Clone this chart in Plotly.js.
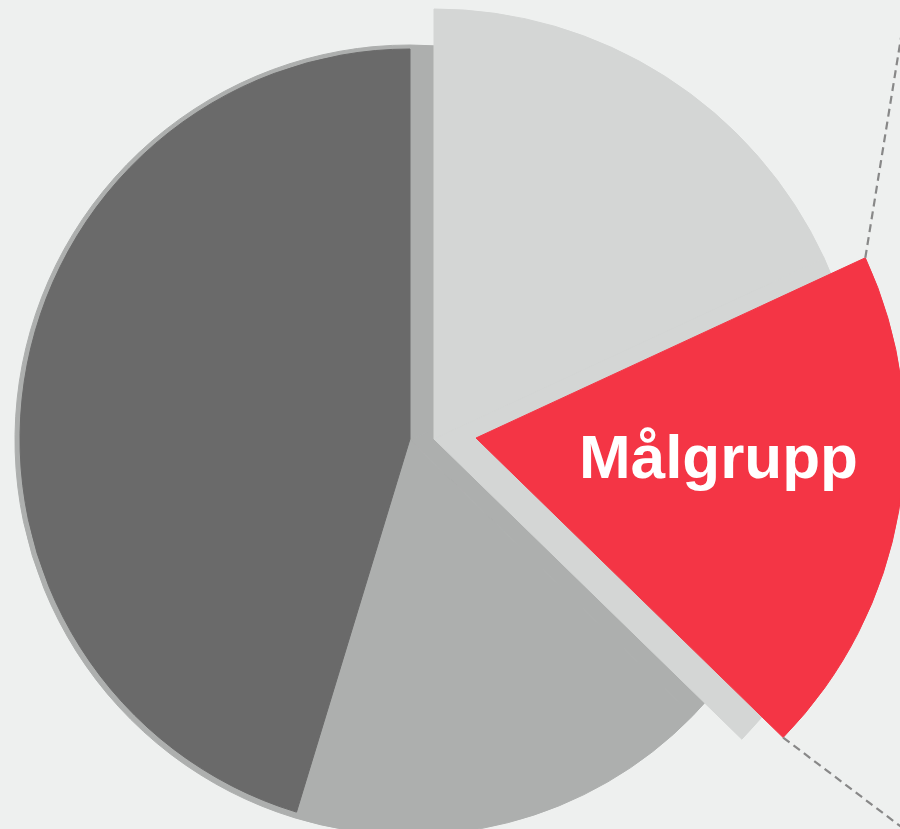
<!DOCTYPE html>
<html><head><meta charset="utf-8">
<script src="https://cdn.plot.ly/plotly-3.0.1.min.js"></script>
<style>
html,body{margin:0;padding:0;overflow:hidden;background:#eef0ef;}
#chart{width:920px;height:880px;}
</style>
</head><body><div id="chart"></div>
<script>
// ---- data ----
const categories = ['Övrigt', 'Målgrupp', 'Grupp B', 'Grupp C'];
const values = [18.1, 19.2, 17.4, 45.3];
const highlightLabel = 'Målgrupp';

// ---- styles / geometry ----
const W = 920, H = 880;
const BG = '#eef0ef';
const T = 'rgba(0,0,0,0)';
const LIGHT = '#d4d6d5', MID = '#adafae', DARK = '#6a6a6a', RED = '#f43545';

const layers = [
  {cx: 410, cy: 440, r: 395, colors: [MID, MID, MID, MID]},
  {cx: 410, cy: 439, r: 390, colors: [T, T, T, DARK]},
  {cx: 434, cy: 439, r: 430, colors: [LIGHT, LIGHT, T, T]},
  {cx: 476, cy: 438, r: 429, colors: [T, RED, T, T]}
];

const traces = layers.map(L => ({
  type: 'pie',
  labels: categories,
  values: values,
  sort: false,
  direction: 'clockwise',
  rotation: 0,
  textinfo: 'none',
  hoverinfo: 'skip',
  showlegend: false,
  marker: {colors: L.colors, line: {width: 1, color: L.colors}},
  domain: {
    x: [(L.cx - L.r) / W, (L.cx + L.r) / W],
    y: [1 - (L.cy + L.r) / H, 1 - (L.cy - L.r) / H]
  }
}));

// connector lines from the highlighted slice's outer corners
const total = values.reduce((a, b) => a + b, 0);
const hi = categories.indexOf(highlightLabel);
let before = 0; for (let i = 0; i < hi; i++) before += values[i];
const a0 = before / total * 2 * Math.PI;
const a1 = (before + values[hi]) / total * 2 * Math.PI;
const R = layers[3];
const p0 = [R.cx + R.r * Math.sin(a0), R.cy - R.r * Math.cos(a0)];
const p1 = [R.cx + R.r * Math.sin(a1), R.cy - R.r * Math.cos(a1)];
const d0 = [0.16, -0.987], d1 = [0.797, 0.603];
const ext = 400;
function px(x) { return x / W; }
function py(y) { return 1 - y / H; }
const lineStyle = {color: '#888888', width: 2.2, dash: '8px,5px'};
const shapes = [
  {type: 'line', xref: 'paper', yref: 'paper', layer: 'above',
   x0: px(p0[0]), y0: py(p0[1]), x1: px(p0[0] + d0[0] * ext), y1: py(p0[1] + d0[1] * ext), line: lineStyle},
  {type: 'line', xref: 'paper', yref: 'paper', layer: 'above',
   x0: px(p1[0]), y0: py(p1[1]), x1: px(p1[0] + d1[0] * ext), y1: py(p1[1] + d1[1] * ext), line: lineStyle}
];

const layout = {
  width: W, height: H,
  margin: {l: 0, r: 0, t: 0, b: 0},
  paper_bgcolor: BG, plot_bgcolor: BG,
  showlegend: false,
  shapes: shapes,
  annotations: [{
    xref: 'paper', yref: 'paper', x: px(718), y: py(456),
    xanchor: 'center', yanchor: 'middle', showarrow: false,
    text: highlightLabel,
    font: {family: 'Liberation Sans, Arial, sans-serif', size: 62, color: '#ffffff', weight: 700}
  }]
};

Plotly.newPlot('chart', traces, layout, {displayModeBar: false, staticPlot: true});
</script>
</body></html>
